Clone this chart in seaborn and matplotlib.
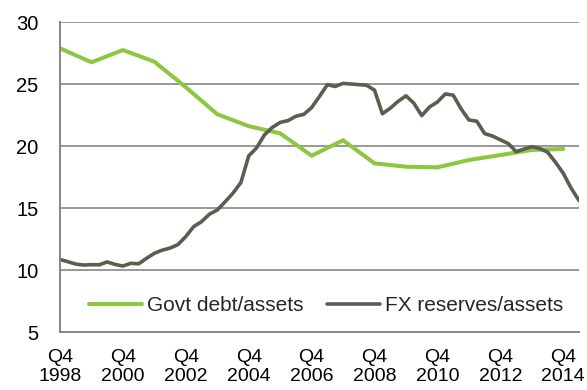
import numpy as np
import pandas as pd
import matplotlib
matplotlib.use("Agg")
import matplotlib.pyplot as plt
import seaborn as sns

# Government debt held, share of total assets (annual, Q4)
govt_years = list(range(1998, 2015))
govt_debt = [27.88, 26.75, 27.74, 26.80, 24.74, 22.56, 21.60, 21.02, 19.22,
             20.46, 18.60, 18.33, 18.28, 18.87, 19.27, 19.68, 19.76]

# FX reserves, share of total assets (quarterly, Q4 1998 - Q2 2015)
fx_reserves = [10.85, 10.67, 10.48, 10.40, 10.43, 10.42, 10.65, 10.45,
               10.32, 10.54, 10.50, 10.94, 11.35, 11.60, 11.77, 12.05,
               12.70, 13.50, 13.90, 14.50, 14.84, 15.50, 16.20, 17.05,
               19.20, 19.85, 20.90, 21.50, 21.90, 22.05, 22.40, 22.55,
               23.10, 24.00, 24.95, 24.80, 25.05, 25.00, 24.95, 24.90,
               24.50, 22.60, 23.05, 23.60, 24.05, 23.45, 22.45, 23.15,
               23.55, 24.20, 24.10, 23.00, 22.10, 22.00, 21.00, 20.80,
               20.50, 20.20, 19.55, 19.75, 19.95, 19.80, 19.50, 18.70,
               17.80, 16.60, 15.60]

tick_years = list(range(1998, 2015, 2))
tick_labels = [f"Q4\n{y}" for y in tick_years]
y_ticks = [5, 10, 15, 20, 25, 30]

green = "#8DC63F"
dark = "#5B5D4E"
grey = "#868686"

sns.set_theme(style="white")
plt.rcParams["font.family"] = ["Liberation Sans", "DejaVu Sans"]

# Time as fractional years, with Q4 placed at year + 0.75
govt_df = pd.DataFrame({"t": [y + 0.75 for y in govt_years], "v": govt_debt})
fx_df = pd.DataFrame({"t": [1998.75 + 0.25 * i for i in range(len(fx_reserves))],
                      "v": fx_reserves})

fig = plt.figure(figsize=(5.87, 3.90), dpi=100)
ax = fig.add_axes([60 / 587, 1 - 332 / 390, 519 / 587, 310 / 390])

sns.lineplot(data=govt_df, x="t", y="v", ax=ax, color=green, linewidth=2.9,
             label="Govt debt/assets")
sns.lineplot(data=fx_df, x="t", y="v", ax=ax, color=dark, linewidth=2.6,
             label="FX reserves/assets")

ax.set_xlim(1998.75, 2015.25)
ax.set_ylim(5, 30)
ax.set_yticks(y_ticks)
ax.set_xticks([y + 0.75 for y in tick_years])
ax.set_xticklabels(tick_labels)
ax.set_xlabel("")
ax.set_ylabel("")

ax.yaxis.grid(True, color=grey, linewidth=1.2)
ax.xaxis.grid(False)
ax.set_axisbelow(True)

for side in ("top", "right"):
    ax.spines[side].set_visible(False)
for side in ("left", "bottom"):
    ax.spines[side].set_color(grey)
    ax.spines[side].set_linewidth(1.4)

ax.tick_params(axis="y", length=0, pad=15.5, labelsize=14.5, colors="black")
ax.tick_params(axis="x", direction="in", length=5, width=1, color=grey,
               pad=12, labelsize=14, labelcolor="black")
for lbl in ax.get_xticklabels():
    lbl.set_linespacing(1.2)

leg = ax.legend(loc="center", bbox_to_anchor=(0.5125, 0.084), ncol=2,
                frameon=False, fontsize=15, handlelength=2.55,
                handletextpad=0.24, columnspacing=1.15)

fig.savefig("out.png", dpi=100)
